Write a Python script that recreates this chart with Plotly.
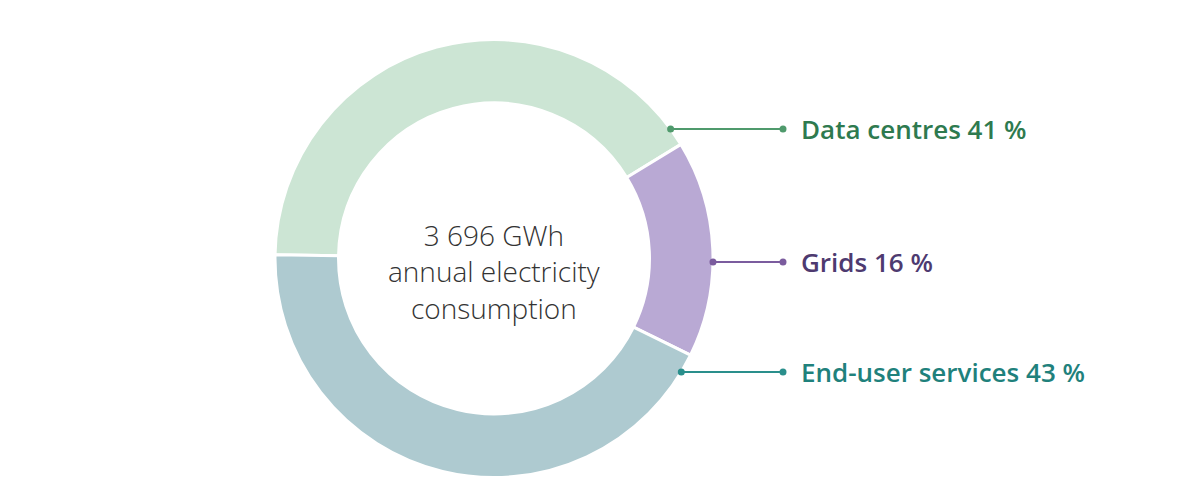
import math
import plotly.graph_objects as go

# ---- data ----
categories = ["Data centres", "Grids", "End-user services"]
shares = [41, 16, 43]
slice_colors = ["#cce5d4", "#b9a9d4", "#aecad0"]
label_colors = ["#2e7a4f", "#4e3a70", "#1f817c"]
line_colors = ["#4f9a6c", "#7b5c9e", "#2a8f8c"]
center_lines = ["3 696 GWh", "annual electricity", "consumption"]

# ---- layout (pixels, in screenshot coordinates) ----
W, H = 1200, 501
OFF = 8  # page body margin
CX, CY, R = 494, 258.5, 219
HOLE = 0.71
label_y = [129, 262, 372]
center_text_y = 271
line_end_x = 783
text_x = 799


def px(x):
    return (x - OFF) / W


def py(y):
    return (H - (y - OFF)) / H


fig = go.Figure()
fig.add_trace(go.Pie(
    labels=categories,
    values=shares,
    hole=HOLE,
    sort=False,
    direction="clockwise",
    rotation=271,
    marker=dict(colors=slice_colors, line=dict(color="white", width=3)),
    textinfo="none",
    hoverinfo="label+percent",
    showlegend=False,
    domain=dict(x=[px(CX - R), px(CX + R)], y=[py(CY + R), py(CY - R)]),
))

shapes = []
annotations = []
for name, val, ly, lc, tc in zip(categories, shares, label_y, line_colors, label_colors):
    dy = ly - CY
    x0 = CX + math.sqrt(R * R - dy * dy)
    shapes.append(dict(type="line", xref="paper", yref="paper",
                       x0=px(x0), x1=px(line_end_x), y0=py(ly), y1=py(ly),
                       line=dict(color=lc, width=2)))
    for xx in (x0, line_end_x):
        shapes.append(dict(type="circle", xref="paper", yref="paper",
                           x0=px(xx - 3.5), x1=px(xx + 3.5),
                           y0=py(ly + 3.5), y1=py(ly - 3.5),
                           fillcolor=lc, line=dict(width=0)))
    annotations.append(dict(
        x=px(text_x), y=py(ly), xref="paper", yref="paper",
        xanchor="left", yanchor="middle", showarrow=False,
        text=f"{name} {val} %",
        font=dict(family="Open Sans", size=26, color=tc, weight=600),
    ))

annotations.append(dict(
    x=px(CX), y=py(center_text_y), xref="paper", yref="paper",
    xanchor="center", yanchor="middle", showarrow=False,
    text="<br>".join(center_lines),
    font=dict(family="Open Sans", size=28, color="#333333", weight=300),
))

fig.update_layout(
    width=W, height=H,
    margin=dict(l=0, r=0, t=0, b=0),
    paper_bgcolor="white", plot_bgcolor="white",
    shapes=shapes, annotations=annotations,
)

fig.write_html("out.html")
